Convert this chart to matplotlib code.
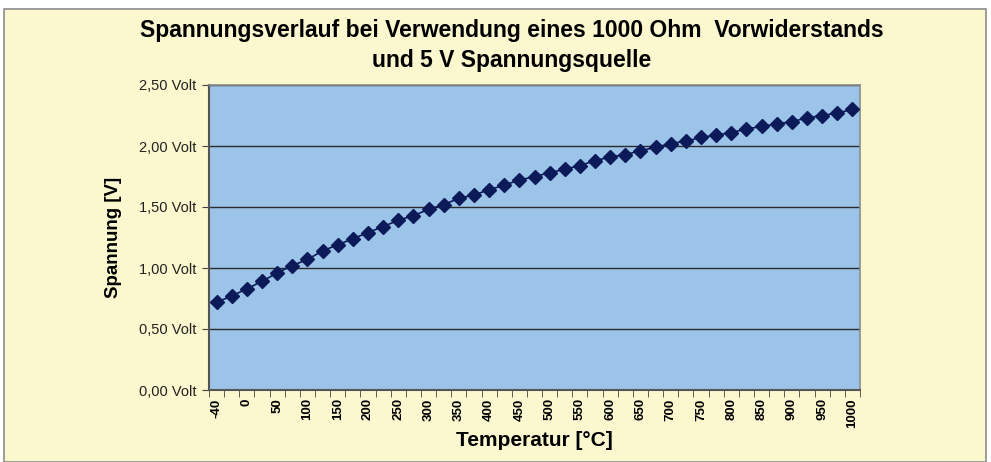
import numpy as np
import matplotlib
matplotlib.use('Agg')
import matplotlib.pyplot as plt
from matplotlib.patches import Rectangle

plt.rcParams['font.family'] = ['Liberation Sans', 'DejaVu Sans']

# temperature categories [°C]
temps = [-40, -20] + list(range(0, 1001, 25))
# voltage [V]
volts = [0.72, 0.77, 0.83, 0.89, 0.96, 1.02, 1.07, 1.14, 1.19, 1.24,
         1.29, 1.34, 1.39, 1.43, 1.48, 1.52, 1.57, 1.60, 1.64, 1.68,
         1.72, 1.75, 1.78, 1.81, 1.84, 1.88, 1.91, 1.93, 1.96, 1.99,
         2.02, 2.04, 2.07, 2.09, 2.11, 2.14, 2.16, 2.18, 2.20, 2.23,
         2.25, 2.27, 2.30]
yticks = [0.0, 0.5, 1.0, 1.5, 2.0, 2.5]
ytick_labels = ['0,00 Volt', '0,50 Volt', '1,00 Volt', '1,50 Volt', '2,00 Volt', '2,50 Volt']

fig = plt.figure(figsize=(9.91, 4.62), dpi=100)
fig.patch.set_facecolor('white')
# yellow chart area with grey frame
frame = Rectangle((4/991, 0.0), 982/991, 1 - 9/462, transform=fig.transFigure,
                  facecolor='#FBF7CE', edgecolor='#8C8C8C', linewidth=1.2, zorder=-10)
fig.patches.append(frame)

ax = fig.add_axes([209/991, 1 - 390/462, 651/991, 305/462])
ax.set_facecolor('#9CC4E8')

x = np.arange(len(temps))
ax.plot(x, volts, color='#0C1A5A', linewidth=1.2, marker='D', markersize=7,
        markerfacecolor='#0C1A5A', markeredgecolor='#0C1A5A', zorder=3)

ax.set_xlim(-0.5, len(temps) - 0.5)
ax.set_ylim(0, 2.5)

ax.set_yticks(yticks)
ax.set_yticklabels(ytick_labels, fontsize=10.5, color='#222222')
ax.grid(True, axis='y', color='#2A2A2A', linewidth=1.0)
ax.set_axisbelow(True)

ax.set_xticks(x[::2])
ax.set_xticklabels([str(t) for t in temps[::2]], rotation=90, fontsize=9.5, fontweight='bold')
ax.set_xticks(np.arange(len(temps) + 1) - 0.5, minor=True)
ax.tick_params(axis='x', which='major', length=0, pad=6)
ax.tick_params(axis='x', which='minor', length=5, color='#444444', direction='out')
ax.tick_params(axis='y', length=5, color='#444444', direction='out', pad=4)

for s in ['left', 'bottom']:
    ax.spines[s].set_color('#555555')
    ax.spines[s].set_linewidth(1.5)
for s in ['right', 'top']:
    ax.spines[s].set_color('#8C8C8C')
    ax.spines[s].set_linewidth(1.2)

ax.set_xlabel('Temperatur [°C]', fontsize=15, fontweight='bold', labelpad=2)
ax.set_ylabel('Spannung [V]', fontsize=13.5, fontweight='bold', labelpad=12)

fig.text(512/991, 1 - 31/462, 'Spannungsverlauf bei Verwendung eines 1000 Ohm  Vorwiderstands',
         ha='center', va='center', fontsize=16.5, fontweight='bold')
fig.text(512/991, 1 - 61/462, 'und 5 V Spannungsquelle',
         ha='center', va='center', fontsize=16.5, fontweight='bold')

fig.savefig('out.png', dpi=100)
